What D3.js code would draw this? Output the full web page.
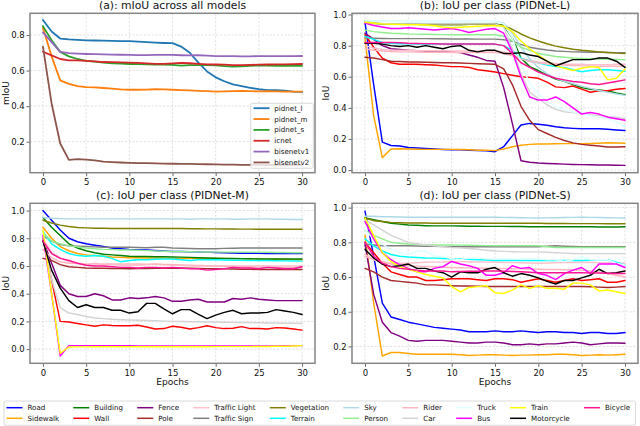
<!DOCTYPE html>
<html><head><meta charset="utf-8">
<script src="https://cdn.jsdelivr.net/npm/d3@7"></script>
<style>
body{margin:0;background:#fff}
svg{display:block;font-family:'DejaVu Sans',sans-serif}
</style>
</head><body>
<svg id="chart" width="640" height="426"></svg>
<script>
// ---------------- DATA ----------------
const epochs = [0,1,2,3,4,5,6,7,8,9,10,11,12,13,14,15,16,17,18,19,20,21,22,23,24,25,26,27,28,29,30];
const xTickValues = [0,5,10,15,20,25,30];

// (a) mIoU across models
const modelNames = ["pidnet_l","pidnet_m","pidnet_s","icnet","bisenetv1","bisenetv2"];
const modelColors = ["#1f77b4","#ff7f0e","#2ca02c","#d62728","#9467bd","#8c564b"];
const miou_pidnet_l = [0.884,0.82,0.78,0.775,0.772,0.770,0.769,0.768,0.767,0.766,0.765,0.763,0.760,0.757,0.755,0.754,0.735,0.700,0.645,0.595,0.562,0.540,0.522,0.512,0.503,0.495,0.490,0.490,0.487,0.482,0.480];
const miou_pidnet_m = [0.840,0.680,0.545,0.525,0.513,0.507,0.505,0.502,0.498,0.494,0.492,0.492,0.493,0.495,0.494,0.492,0.490,0.488,0.486,0.484,0.482,0.483,0.484,0.485,0.484,0.483,0.484,0.483,0.482,0.482,0.481];
const miou_pidnet_s = [0.850,0.770,0.705,0.680,0.665,0.655,0.650,0.645,0.641,0.639,0.637,0.636,0.635,0.634,0.633,0.632,0.628,0.630,0.631,0.630,0.629,0.625,0.622,0.624,0.627,0.628,0.628,0.627,0.627,0.627,0.627];
const miou_icnet = [0.706,0.685,0.665,0.657,0.657,0.655,0.652,0.648,0.647,0.646,0.645,0.643,0.640,0.638,0.638,0.640,0.643,0.641,0.638,0.635,0.634,0.633,0.631,0.631,0.632,0.633,0.634,0.635,0.635,0.636,0.637];
const miou_bisenetv1 = [0.815,0.760,0.705,0.698,0.695,0.693,0.692,0.691,0.690,0.689,0.688,0.687,0.687,0.688,0.688,0.688,0.686,0.685,0.686,0.684,0.681,0.681,0.681,0.680,0.680,0.681,0.681,0.681,0.681,0.681,0.682];
const miou_bisenetv2 = [0.735,0.415,0.190,0.098,0.102,0.099,0.095,0.088,0.085,0.083,0.081,0.080,0.079,0.078,0.077,0.076,0.075,0.075,0.074,0.073,0.072,0.071,0.071,0.070,0.070,0.069,0.069,0.069,0.069,0.069,0.069];

// classes
const classNames = ["Road","Sidewalk","Building","Wall","Fence","Pole","Traffic Light","Traffic Sign","Vegetation","Terrain","Sky","Person","Rider","Car","Truck","Bus","Train","Motorcycle","Bicycle"];
const classColors = ["blue","orange","green","red","purple","brown","pink","gray","olive","cyan","lightblue","lightgreen","lightpink","lightgray","lightcyan","magenta","yellow","black","deeppink"];

// (b) PIDNet-L, rows in classNames order
const iouPidnetL = [
 [0.95,0.55,0.18,0.158,0.155,0.145,0.142,0.138,0.135,0.132,0.130,0.130,0.128,0.126,0.124,0.118,0.150,0.220,0.290,0.300,0.295,0.288,0.278,0.272,0.268,0.265,0.265,0.265,0.262,0.258,0.254],
 [0.85,0.35,0.08,0.135,0.137,0.135,0.134,0.133,0.133,0.133,0.133,0.132,0.130,0.128,0.127,0.125,0.135,0.150,0.160,0.165,0.168,0.168,0.169,0.170,0.170,0.170,0.171,0.173,0.175,0.174,0.172],
 [0.96,0.945,0.94,0.94,0.938,0.937,0.937,0.936,0.936,0.936,0.936,0.936,0.937,0.937,0.938,0.940,0.930,0.850,0.720,0.665,0.640,0.610,0.585,0.570,0.550,0.530,0.520,0.515,0.508,0.495,0.485],
 [0.87,0.79,0.72,0.69,0.68,0.68,0.68,0.677,0.675,0.67,0.665,0.665,0.66,0.645,0.638,0.630,0.620,0.610,0.600,0.596,0.590,0.565,0.535,0.530,0.540,0.520,0.500,0.510,0.510,0.520,0.525],
 [0.88,0.84,0.80,0.78,0.775,0.77,0.768,0.766,0.764,0.762,0.760,0.755,0.740,0.725,0.705,0.700,0.530,0.300,0.060,0.050,0.045,0.042,0.040,0.038,0.036,0.035,0.034,0.033,0.032,0.031,0.030],
 [0.725,0.72,0.71,0.70,0.698,0.695,0.695,0.693,0.692,0.690,0.690,0.688,0.686,0.684,0.682,0.680,0.650,0.550,0.410,0.320,0.260,0.235,0.210,0.190,0.175,0.165,0.160,0.155,0.148,0.148,0.150],
 [0.80,0.785,0.775,0.77,0.77,0.77,0.768,0.768,0.767,0.767,0.766,0.766,0.766,0.765,0.765,0.765,0.760,0.740,0.720,0.705,0.695,0.690,0.685,0.680,0.680,0.680,0.678,0.678,0.678,0.680,0.680],
 [0.85,0.848,0.846,0.845,0.845,0.845,0.845,0.845,0.844,0.844,0.843,0.843,0.843,0.842,0.842,0.842,0.838,0.828,0.808,0.790,0.780,0.772,0.766,0.763,0.760,0.759,0.758,0.757,0.756,0.755,0.755],
 [0.95,0.942,0.94,0.938,0.937,0.937,0.937,0.936,0.936,0.936,0.936,0.936,0.937,0.937,0.938,0.938,0.930,0.905,0.875,0.850,0.830,0.812,0.797,0.786,0.777,0.770,0.765,0.760,0.756,0.752,0.750],
 [0.86,0.84,0.82,0.815,0.812,0.812,0.811,0.811,0.811,0.810,0.810,0.810,0.810,0.810,0.810,0.810,0.800,0.770,0.720,0.700,0.690,0.675,0.665,0.660,0.645,0.632,0.640,0.645,0.645,0.640,0.635],
 [0.96,0.958,0.957,0.956,0.956,0.955,0.955,0.955,0.955,0.955,0.955,0.955,0.955,0.955,0.955,0.955,0.945,0.880,0.790,0.715,0.660,0.620,0.590,0.570,0.555,0.540,0.525,0.512,0.500,0.490,0.480],
 [0.90,0.89,0.885,0.88,0.878,0.875,0.874,0.873,0.872,0.871,0.870,0.870,0.870,0.870,0.870,0.870,0.860,0.830,0.790,0.770,0.750,0.740,0.730,0.725,0.720,0.718,0.716,0.714,0.712,0.711,0.710],
 [0.78,0.77,0.765,0.762,0.76,0.76,0.759,0.758,0.757,0.757,0.756,0.756,0.756,0.755,0.755,0.755,0.750,0.735,0.715,0.700,0.690,0.682,0.678,0.675,0.672,0.670,0.670,0.668,0.668,0.668,0.668],
 [0.95,0.945,0.942,0.94,0.94,0.94,0.94,0.94,0.94,0.94,0.94,0.94,0.94,0.94,0.94,0.94,0.920,0.780,0.620,0.500,0.460,0.420,0.390,0.375,0.370,0.365,0.355,0.350,0.345,0.340,0.330],
 [0.96,0.958,0.957,0.956,0.955,0.955,0.955,0.955,0.955,0.955,0.955,0.955,0.955,0.955,0.955,0.955,0.940,0.850,0.680,0.560,0.490,0.440,0.410,0.385,0.375,0.365,0.350,0.340,0.330,0.310,0.280],
 [0.945,0.93,0.92,0.91,0.91,0.915,0.91,0.905,0.90,0.905,0.91,0.90,0.885,0.895,0.905,0.91,0.880,0.760,0.600,0.470,0.450,0.450,0.470,0.440,0.400,0.360,0.370,0.360,0.340,0.330,0.320],
 [0.95,0.945,0.94,0.938,0.936,0.935,0.934,0.933,0.928,0.920,0.915,0.918,0.922,0.925,0.928,0.930,0.925,0.890,0.830,0.780,0.740,0.700,0.670,0.655,0.640,0.655,0.665,0.660,0.580,0.590,0.650],
 [0.815,0.815,0.81,0.80,0.795,0.80,0.79,0.80,0.79,0.78,0.795,0.80,0.77,0.76,0.77,0.77,0.75,0.75,0.755,0.74,0.73,0.70,0.67,0.69,0.71,0.71,0.71,0.72,0.72,0.70,0.66],
 [0.82,0.82,0.82,0.82,0.818,0.815,0.814,0.813,0.812,0.811,0.810,0.810,0.810,0.810,0.810,0.810,0.800,0.750,0.690,0.660,0.630,0.610,0.590,0.580,0.570,0.565,0.555,0.550,0.560,0.570,0.580]
];

// (c) PIDNet-M
const iouPidnetM = [
 [1.00,0.93,0.86,0.80,0.775,0.76,0.75,0.74,0.73,0.725,0.72,0.718,0.716,0.712,0.708,0.705,0.704,0.703,0.702,0.70,0.698,0.696,0.694,0.692,0.692,0.691,0.690,0.690,0.690,0.690,0.690],
 [0.88,0.80,0.74,0.71,0.69,0.68,0.675,0.67,0.665,0.662,0.66,0.66,0.658,0.657,0.656,0.655,0.655,0.655,0.655,0.655,0.655,0.654,0.653,0.652,0.651,0.650,0.649,0.648,0.647,0.646,0.645],
 [0.95,0.88,0.82,0.76,0.73,0.71,0.695,0.685,0.68,0.675,0.67,0.669,0.668,0.667,0.666,0.665,0.664,0.662,0.66,0.658,0.656,0.655,0.654,0.653,0.652,0.651,0.650,0.650,0.650,0.650,0.650],
 [0.80,0.50,0.20,0.195,0.185,0.175,0.165,0.175,0.17,0.168,0.168,0.172,0.16,0.145,0.148,0.165,0.158,0.145,0.155,0.168,0.155,0.148,0.15,0.162,0.148,0.148,0.145,0.155,0.152,0.145,0.137],
 [0.79,0.62,0.46,0.40,0.38,0.38,0.40,0.385,0.355,0.355,0.37,0.365,0.37,0.38,0.37,0.345,0.345,0.355,0.36,0.34,0.34,0.34,0.365,0.36,0.37,0.36,0.355,0.35,0.35,0.35,0.35],
 [0.655,0.64,0.61,0.595,0.59,0.585,0.584,0.583,0.582,0.581,0.58,0.581,0.582,0.583,0.584,0.585,0.584,0.583,0.582,0.581,0.58,0.579,0.578,0.577,0.576,0.575,0.575,0.575,0.575,0.575,0.575],
 [0.80,0.70,0.66,0.63,0.62,0.61,0.62,0.61,0.61,0.605,0.605,0.605,0.61,0.615,0.61,0.605,0.605,0.60,0.60,0.60,0.60,0.60,0.60,0.60,0.60,0.60,0.60,0.60,0.60,0.60,0.60],
 [0.82,0.78,0.755,0.745,0.742,0.74,0.738,0.735,0.735,0.735,0.735,0.733,0.732,0.735,0.735,0.73,0.728,0.726,0.725,0.725,0.725,0.727,0.728,0.73,0.73,0.73,0.73,0.73,0.73,0.73,0.73],
 [0.93,0.91,0.895,0.885,0.878,0.875,0.873,0.872,0.871,0.87,0.87,0.87,0.87,0.87,0.87,0.87,0.87,0.869,0.869,0.868,0.868,0.867,0.867,0.866,0.866,0.865,0.865,0.865,0.865,0.865,0.865],
 [0.85,0.76,0.72,0.69,0.675,0.67,0.675,0.67,0.655,0.63,0.64,0.645,0.645,0.648,0.65,0.65,0.645,0.64,0.645,0.645,0.645,0.643,0.642,0.641,0.64,0.64,0.64,0.638,0.637,0.636,0.635],
 [0.95,0.945,0.942,0.94,0.94,0.94,0.94,0.94,0.94,0.94,0.94,0.94,0.94,0.94,0.94,0.94,0.94,0.938,0.94,0.94,0.94,0.94,0.938,0.938,0.94,0.94,0.94,0.938,0.937,0.936,0.935],
 [0.84,0.78,0.76,0.745,0.738,0.73,0.725,0.72,0.718,0.716,0.715,0.713,0.711,0.709,0.707,0.705,0.704,0.703,0.702,0.701,0.70,0.70,0.70,0.70,0.70,0.70,0.699,0.698,0.697,0.696,0.695],
 [0.72,0.66,0.63,0.62,0.618,0.615,0.615,0.615,0.615,0.615,0.615,0.614,0.613,0.612,0.611,0.61,0.608,0.606,0.604,0.602,0.60,0.598,0.596,0.594,0.592,0.59,0.59,0.59,0.59,0.59,0.59],
 [0.80,0.50,0.30,0.26,0.25,0.235,0.225,0.22,0.215,0.212,0.21,0.208,0.206,0.204,0.202,0.20,0.199,0.198,0.197,0.196,0.195,0.194,0.193,0.192,0.191,0.19,0.189,0.188,0.187,0.186,0.185],
 [0.85,0.40,0.06,0.03,0.025,0.025,0.024,0.024,0.023,0.023,0.022,0.022,0.022,0.021,0.021,0.021,0.02,0.02,0.02,0.02,0.02,0.02,0.02,0.02,0.02,0.02,0.02,0.02,0.02,0.02,0.02],
 [0.82,0.40,-0.05,0.025,0.025,0.025,0.025,0.025,0.024,0.024,0.024,0.023,0.023,0.023,0.022,0.022,0.022,0.022,0.022,0.022,0.022,0.022,0.022,0.022,0.022,0.022,0.022,0.023,0.024,0.025,0.025],
 [0.86,0.40,-0.03,0.015,0.016,0.016,0.017,0.017,0.017,0.017,0.017,0.017,0.017,0.017,0.017,0.017,0.017,0.017,0.017,0.017,0.018,0.018,0.018,0.018,0.018,0.019,0.019,0.02,0.021,0.023,0.025],
 [0.78,0.57,0.44,0.35,0.30,0.32,0.30,0.30,0.28,0.28,0.26,0.27,0.33,0.33,0.29,0.255,0.285,0.285,0.25,0.22,0.245,0.265,0.28,0.255,0.26,0.26,0.265,0.285,0.275,0.265,0.25],
 [0.78,0.69,0.655,0.64,0.62,0.605,0.60,0.60,0.595,0.59,0.59,0.585,0.59,0.59,0.585,0.59,0.585,0.58,0.58,0.57,0.575,0.58,0.59,0.585,0.585,0.58,0.59,0.585,0.58,0.58,0.595]
];

// (d) PIDNet-S
const iouPidnetS = [
 [0.98,0.72,0.45,0.37,0.355,0.34,0.33,0.32,0.31,0.305,0.30,0.295,0.285,0.285,0.285,0.29,0.285,0.285,0.29,0.285,0.28,0.285,0.285,0.28,0.28,0.275,0.28,0.28,0.275,0.275,0.28],
 [0.84,0.45,0.145,0.165,0.165,0.16,0.155,0.155,0.155,0.155,0.155,0.152,0.148,0.15,0.152,0.152,0.15,0.148,0.15,0.15,0.152,0.152,0.155,0.155,0.152,0.148,0.15,0.152,0.15,0.152,0.155],
 [0.94,0.93,0.92,0.91,0.905,0.90,0.898,0.896,0.895,0.895,0.895,0.894,0.893,0.893,0.892,0.892,0.892,0.891,0.891,0.89,0.89,0.89,0.89,0.89,0.89,0.89,0.89,0.889,0.888,0.889,0.89],
 [0.80,0.74,0.68,0.63,0.615,0.60,0.60,0.58,0.58,0.585,0.59,0.59,0.59,0.585,0.58,0.59,0.59,0.585,0.57,0.58,0.59,0.58,0.57,0.58,0.59,0.58,0.585,0.59,0.57,0.57,0.58],
 [0.79,0.50,0.34,0.28,0.26,0.235,0.23,0.235,0.235,0.235,0.23,0.225,0.22,0.22,0.225,0.225,0.22,0.21,0.21,0.215,0.21,0.215,0.215,0.22,0.225,0.22,0.21,0.215,0.22,0.22,0.218],
 [0.65,0.63,0.60,0.58,0.575,0.57,0.565,0.555,0.555,0.552,0.55,0.549,0.548,0.547,0.546,0.545,0.545,0.545,0.545,0.545,0.545,0.545,0.545,0.545,0.545,0.545,0.544,0.542,0.54,0.542,0.545],
 [0.73,0.70,0.68,0.68,0.68,0.68,0.682,0.685,0.686,0.687,0.69,0.689,0.688,0.687,0.686,0.685,0.684,0.683,0.682,0.681,0.68,0.681,0.682,0.683,0.684,0.685,0.684,0.683,0.682,0.681,0.68],
 [0.79,0.785,0.78,0.78,0.78,0.78,0.779,0.778,0.777,0.776,0.775,0.775,0.775,0.775,0.775,0.775,0.775,0.775,0.775,0.775,0.775,0.777,0.78,0.778,0.776,0.775,0.775,0.775,0.775,0.775,0.775],
 [0.94,0.925,0.92,0.915,0.913,0.912,0.911,0.911,0.91,0.91,0.91,0.91,0.91,0.91,0.91,0.91,0.91,0.91,0.91,0.91,0.91,0.909,0.909,0.909,0.908,0.908,0.908,0.908,0.907,0.907,0.907],
 [0.82,0.78,0.75,0.73,0.72,0.715,0.713,0.71,0.709,0.707,0.705,0.704,0.702,0.70,0.698,0.695,0.695,0.695,0.695,0.695,0.695,0.695,0.695,0.695,0.695,0.695,0.697,0.70,0.70,0.685,0.67],
 [0.95,0.95,0.948,0.947,0.946,0.945,0.945,0.945,0.945,0.945,0.945,0.945,0.945,0.945,0.945,0.945,0.944,0.943,0.942,0.941,0.94,0.941,0.942,0.943,0.944,0.945,0.944,0.943,0.942,0.941,0.94],
 [0.87,0.84,0.82,0.80,0.795,0.79,0.788,0.786,0.785,0.785,0.785,0.784,0.783,0.782,0.781,0.78,0.78,0.78,0.78,0.78,0.78,0.775,0.77,0.77,0.77,0.77,0.77,0.77,0.77,0.77,0.77],
 [0.72,0.70,0.69,0.675,0.67,0.665,0.663,0.661,0.659,0.657,0.655,0.654,0.653,0.652,0.651,0.65,0.649,0.648,0.647,0.646,0.645,0.644,0.643,0.642,0.641,0.64,0.635,0.63,0.62,0.61,0.60],
 [0.93,0.90,0.87,0.84,0.82,0.80,0.79,0.785,0.78,0.775,0.77,0.768,0.765,0.76,0.755,0.75,0.748,0.746,0.745,0.745,0.745,0.743,0.74,0.738,0.736,0.735,0.735,0.735,0.735,0.735,0.735],
 [0.87,0.82,0.79,0.76,0.74,0.73,0.75,0.75,0.72,0.72,0.705,0.70,0.71,0.71,0.705,0.705,0.705,0.705,0.705,0.705,0.705,0.70,0.70,0.69,0.70,0.72,0.70,0.70,0.70,0.68,0.67],
 [0.92,0.82,0.74,0.70,0.67,0.65,0.63,0.63,0.65,0.66,0.69,0.675,0.665,0.65,0.61,0.61,0.625,0.665,0.65,0.655,0.62,0.61,0.585,0.62,0.64,0.655,0.62,0.675,0.675,0.675,0.655],
 [0.94,0.84,0.74,0.69,0.66,0.645,0.63,0.615,0.605,0.595,0.545,0.515,0.54,0.545,0.55,0.51,0.505,0.525,0.555,0.535,0.55,0.535,0.535,0.53,0.565,0.565,0.555,0.52,0.525,0.515,0.505],
 [0.76,0.71,0.675,0.66,0.665,0.675,0.65,0.65,0.635,0.625,0.60,0.63,0.625,0.625,0.645,0.655,0.625,0.605,0.62,0.61,0.595,0.575,0.56,0.58,0.58,0.595,0.61,0.645,0.62,0.625,0.635],
 [0.80,0.72,0.68,0.66,0.65,0.645,0.64,0.635,0.635,0.635,0.63,0.632,0.633,0.634,0.635,0.635,0.634,0.632,0.63,0.628,0.625,0.625,0.625,0.625,0.625,0.625,0.624,0.623,0.622,0.621,0.62]
];

// ---------------- DRAW ----------------
const svg = d3.select("#chart");
const TXT = "#111";

function panel(o) {
  const x = d3.scaleLinear().domain([-1.5, 31.5]).range([o.x0, o.x1]);
  const y = d3.scaleLinear().domain(o.yDomain).range([o.y1, o.y0]);
  const g = svg.append("g");

  // grid
  g.append("g").selectAll("line").data(xTickValues).join("line")
    .attr("x1", d => x(d)).attr("x2", d => x(d)).attr("y1", o.y0).attr("y2", o.y1)
    .attr("stroke", "#d4d4d4").attr("stroke-width", 0.7).attr("stroke-dasharray", "2.2,1.6");
  g.append("g").selectAll("line").data(o.yTicks).join("line")
    .attr("y1", d => y(d)).attr("y2", d => y(d)).attr("x1", o.x0).attr("x2", o.x1)
    .attr("stroke", "#d4d4d4").attr("stroke-width", 0.7).attr("stroke-dasharray", "2.2,1.6");

  // lines
  const line = d3.line().x((d, i) => x(epochs[i])).y(d => y(d));
  const clipId = "clip" + o.id;
  g.append("clipPath").attr("id", clipId).append("rect")
    .attr("x", o.x0).attr("y", o.y0).attr("width", o.x1 - o.x0).attr("height", o.y1 - o.y0);
  g.append("g").attr("clip-path", `url(#${clipId})`).selectAll("path").data(o.series).join("path")
    .attr("d", s => line(s.values)).attr("fill", "none")
    .attr("stroke", s => s.color).attr("stroke-width", o.lw)
    .attr("stroke-linejoin", "round").attr("stroke-linecap", "round");

  // axes
  const ax = g.append("g").attr("transform", `translate(0,${o.y1})`)
    .call(d3.axisBottom(x).tickValues(xTickValues).tickSize(3.5).tickPadding(3.2));
  const ay = g.append("g").attr("transform", `translate(${o.x0},0)`)
    .call(d3.axisLeft(y).tickValues(o.yTicks).tickFormat(d3.format(".1f")).tickSize(3.5).tickPadding(1.8));
  [ax, ay].forEach(a => {
    a.select(".domain").remove();
    a.selectAll(".tick line").attr("stroke", "#444").attr("stroke-width", 0.8);
    a.selectAll(".tick text").attr("fill", TXT).style("font-size", "8.5px").style("font-family", "'DejaVu Sans',sans-serif");
  });

  // frame
  g.append("rect").attr("x", o.x0).attr("y", o.y0).attr("width", o.x1 - o.x0).attr("height", o.y1 - o.y0)
    .attr("fill", "none").attr("stroke", "#858585").attr("stroke-width", 1.5);

  // title
  g.append("text").attr("x", (o.x0 + o.x1) / 2).attr("y", o.y0 - 4.6).attr("text-anchor", "middle")
    .attr("fill", TXT).style("font-size", "10.8px").text(o.title);
  // y label
  g.append("text").attr("transform", `translate(${o.ylx},${(o.y0 + o.y1) / 2}) rotate(-90)`)
    .attr("text-anchor", "middle").attr("fill", TXT).style("font-size", "9.1px").text(o.ylabel);
  if (o.xlabel) {
    g.append("text").attr("x", (o.x0 + o.x1) / 2).attr("y", o.y1 + 22).attr("text-anchor", "middle")
      .attr("fill", TXT).style("font-size", "9.1px").text(o.xlabel);
  }
  return { x, y, g };
}

const classSeries = rows => rows.map((v, i) => ({ values: v, color: classColors[i] }));

// (a)
const miouRows = [miou_pidnet_l, miou_pidnet_m, miou_pidnet_s, miou_icnet, miou_bisenetv1, miou_bisenetv2];
panel({ id: "a", x0: 30, x1: 315, y0: 13.3, y1: 172.7, yDomain: [0.0256, 0.922], yTicks: [0.2, 0.4, 0.6, 0.8],
  title: "(a): mIoU across all models", ylabel: "mIoU", ylx: 8.5, lw: 1.8,
  series: miouRows.map((v, i) => ({ values: v, color: modelColors[i] })) });
// (b)
panel({ id: "b", x0: 352, x1: 638, y0: 13.3, y1: 172.7, yDomain: [-0.017, 1.008], yTicks: [0, 0.2, 0.4, 0.6, 0.8, 1.0],
  title: "(b): IoU per class (PIDNet-L)", ylabel: "IoU", ylx: 328.5, lw: 1.45, series: classSeries(iouPidnetL) });
// (c)
panel({ id: "c", x0: 30, x1: 315, y0: 203.3, y1: 363.3, yDomain: [-0.1025, 1.0525], yTicks: [0, 0.2, 0.4, 0.6, 0.8, 1.0],
  title: "(c): IoU per class (PIDNet-M)", ylabel: "IoU", ylx: 8.5, lw: 1.45, xlabel: "Epochs", series: classSeries(iouPidnetM) });
// (d)
panel({ id: "d", x0: 352, x1: 638, y0: 203.3, y1: 363.3, yDomain: [0.103, 1.025], yTicks: [0.2, 0.4, 0.6, 0.8, 1.0],
  title: "(d): IoU per class (PIDNet-S)", ylabel: "IoU", ylx: 328.5, lw: 1.45, xlabel: "Epochs", series: classSeries(iouPidnetS) });

// legend (a)
{
  const lg = svg.append("g");
  lg.append("rect").attr("x", 250.7).attr("y", 103.3).attr("width", 62.6).attr("height", 65).attr("rx", 2)
    .attr("fill", "#fff").attr("fill-opacity", 0.8).attr("stroke", "#d0d0d0").attr("stroke-width", 0.8);
  modelNames.forEach((n, i) => {
    const cy = 108.2 + i * 10.85;
    lg.append("line").attr("x1", 253.5).attr("x2", 269.5).attr("y1", cy).attr("y2", cy)
      .attr("stroke", modelColors[i]).attr("stroke-width", 1.8);
    lg.append("text").attr("x", 274.3).attr("y", cy + 2.5).attr("fill", TXT).style("font-size", "7.1px").text(n);
  });
}

// bottom legend
{
  const lg = svg.append("g");
  lg.append("rect").attr("x", 4).attr("y", 401).attr("width", 631.5).attr("height", 24.3).attr("rx", 2)
    .attr("fill", "#fff").attr("stroke", "#d0d0d0").attr("stroke-width", 0.8);
  const rowsY = [407.7, 418.3];
  let cx = 6.5;
  const nCols = Math.ceil(classNames.length / 2);
  for (let c = 0; c < nCols; c++) {
    let maxW = 0;
    for (let r = 0; r < 2; r++) {
      const k = c * 2 + r;
      if (k >= classNames.length) continue;
      lg.append("line").attr("x1", cx).attr("x2", cx + 16).attr("y1", rowsY[r]).attr("y2", rowsY[r])
        .attr("stroke", classColors[k]).attr("stroke-width", 1.5);
      const t = lg.append("text").attr("x", cx + 21).attr("y", rowsY[r] + 2.5).attr("fill", TXT)
        .style("font-size", "7.1px").text(classNames[k]);
      maxW = Math.max(maxW, t.node().getComputedTextLength());
    }
    cx += 21 + maxW + 14.2;
  }
}
</script>
</body></html>
